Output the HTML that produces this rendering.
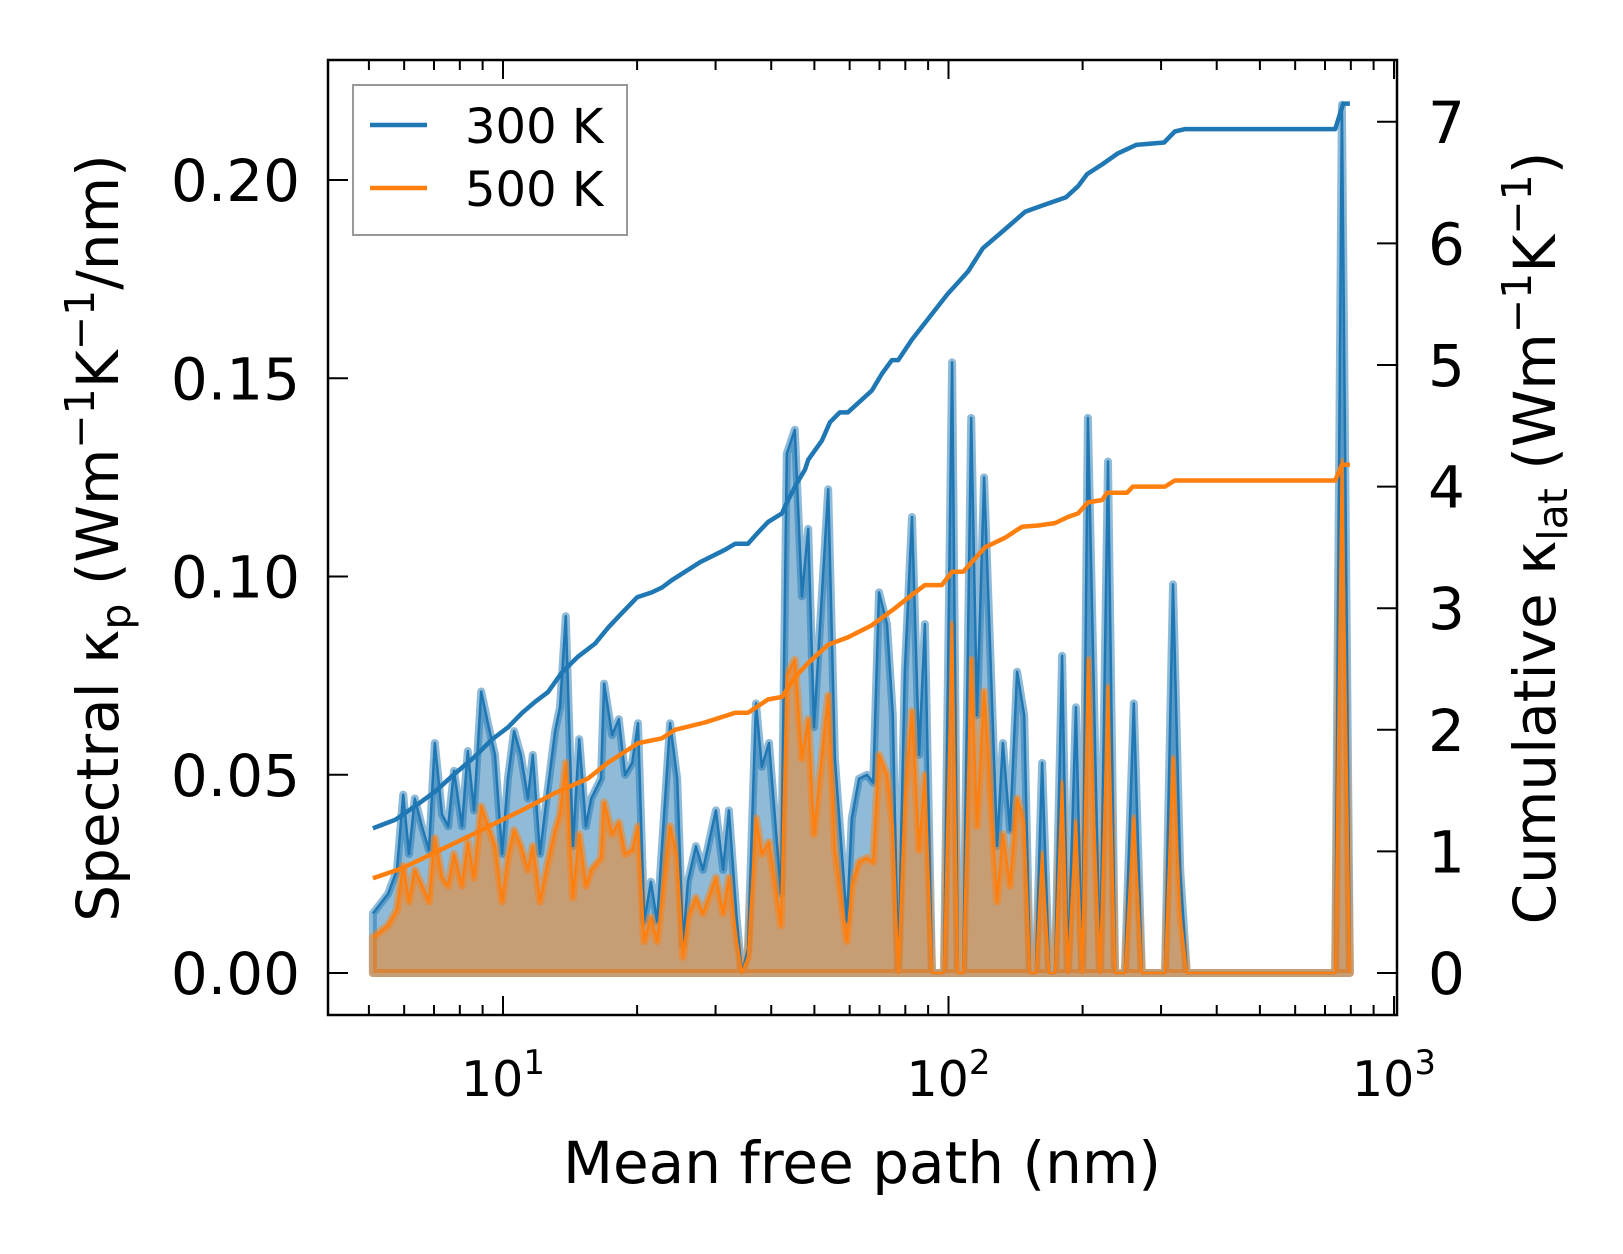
<!DOCTYPE html>
<html><head><meta charset="utf-8"><style>
html,body{margin:0;padding:0;background:#fff;}
svg{display:block;font-family:"DejaVu Sans","Liberation Sans",sans-serif;}
</style></head><body>
<svg id="chart" width="1623" height="1254" viewBox="0 0 1623 1254" xmlns="http://www.w3.org/2000/svg">
<rect x="0" y="0" width="1623" height="1254" fill="#fff"/>
<g id="fills"></g>
<g id="lines"></g>
<g id="axes"></g>
</svg>
<script>
// ---- data ----
const logMfp = [0.708,0.742,0.762,0.776,0.789,0.802,0.818,0.834,0.847,0.863,0.877,0.890,0.908,0.921,0.935,0.951,0.966,0.982,0.998,1.011,1.025,1.040,1.056,1.067,1.083,1.099,1.117,1.128,1.141,1.157,1.171,1.186,1.198,1.220,1.227,1.245,1.260,1.274,1.290,1.303,1.317,1.332,1.346,1.375,1.391,1.404,1.415,1.433,1.449,1.478,1.494,1.507,1.525,1.536,1.550,1.568,1.581,1.597,1.624,1.637,1.655,1.671,1.685,1.698,1.730,1.745,1.772,1.783,1.799,1.817,1.831,1.844,1.862,1.875,1.887,1.902,1.918,1.934,1.947,1.963,1.976,1.990,2.008,2.021,2.033,2.051,2.064,2.080,2.109,2.122,2.138,2.154,2.170,2.183,2.196,2.210,2.226,2.239,2.255,2.268,2.286,2.300,2.313,2.340,2.358,2.374,2.396,2.416,2.434,2.486,2.504,2.520,2.535,2.868,2.883,2.901];
const spec300 = [.015,.020,.026,.045,.030,.044,.037,.031,.058,.040,.037,.051,.037,.056,.041,.071,.063,.055,.030,.049,.061,.055,.044,.055,.030,.045,.061,.067,.090,.032,.059,.037,.044,.049,.073,.060,.064,.050,.053,.063,.013,.023,.013,.063,.049,.007,.023,.032,.026,.041,.026,.041,.013,.000,.006,.068,.052,.058,.020,.131,.137,.095,.112,.062,.122,.054,.013,.039,.049,.050,.048,.096,.088,.065,.000,.076,.115,.055,.088,.000,.000,.000,.154,.000,.000,.140,.065,.125,.032,.058,.036,.076,.065,.000,.000,.053,.000,.000,.080,.000,.067,.000,.140,.000,.129,.000,.000,.068,.000,.000,.098,.026,.000,.000,.219,.000];
const spec500 = [.009,.012,.016,.027,.018,.026,.022,.018,.034,.024,.022,.030,.022,.033,.024,.042,.037,.032,.018,.029,.036,.032,.026,.032,.018,.027,.036,.040,.053,.019,.035,.022,.026,.029,.043,.035,.038,.030,.031,.037,.008,.014,.008,.037,.029,.004,.014,.019,.015,.024,.015,.024,.008,.000,.004,.039,.030,.033,.012,.075,.079,.054,.064,.035,.070,.031,.008,.022,.028,.029,.028,.055,.050,.037,.000,.044,.066,.031,.050,.000,.000,.000,.088,.000,.000,.079,.037,.071,.018,.035,.022,.044,.038,.000,.000,.030,.000,.000,.048,.000,.038,.000,.079,.000,.072,.000,.000,.039,.000,.000,.054,.015,.000,.000,.129,.000];
const cum300X = [0.708,0.758,0.802,0.847,0.892,0.937,0.975,1.011,1.043,1.072,1.101,1.132,1.168,1.207,1.236,1.267,1.301,1.334,1.357,1.379,1.443,1.498,1.521,1.550,1.572,1.595,1.626,1.640,1.660,1.678,1.685,1.716,1.734,1.756,1.774,1.828,1.851,1.873,1.887,1.918,1.997,2.044,2.077,2.125,2.172,2.217,2.264,2.291,2.311,2.345,2.380,2.421,2.484,2.508,2.531,2.868,2.886,2.901];
const cum300Y = [1.19,1.26,1.37,1.49,1.64,1.78,1.92,2.02,2.14,2.23,2.31,2.47,2.60,2.71,2.84,2.96,3.09,3.13,3.17,3.23,3.38,3.48,3.53,3.53,3.62,3.71,3.78,3.89,4.03,4.14,4.22,4.38,4.53,4.61,4.61,4.79,4.93,5.04,5.04,5.21,5.58,5.77,5.96,6.11,6.26,6.32,6.38,6.47,6.57,6.65,6.74,6.81,6.83,6.92,6.94,6.94,7.15,7.15];
const cum500X = [0.708,0.773,0.847,0.921,0.982,1.043,1.117,1.191,1.236,1.303,1.357,1.386,1.453,1.521,1.550,1.595,1.626,1.655,1.685,1.730,1.774,1.828,1.880,1.918,1.947,1.985,2.008,2.033,2.082,2.127,2.165,2.201,2.239,2.268,2.291,2.313,2.345,2.356,2.401,2.414,2.486,2.508,2.868,2.883,2.901];
const cum500Y = [0.78,0.86,0.99,1.12,1.23,1.34,1.48,1.60,1.73,1.89,1.93,2.00,2.06,2.14,2.14,2.25,2.27,2.43,2.55,2.70,2.76,2.86,3.00,3.11,3.19,3.19,3.30,3.30,3.50,3.58,3.67,3.68,3.70,3.75,3.78,3.87,3.89,3.95,3.95,4.00,4.00,4.05,4.05,4.18,4.18];
const leftTicks = [0, 0.05, 0.10, 0.15, 0.20];
const leftTickLabels = ["0.00","0.05","0.10","0.15","0.20"];
const rightTicks = [0,1,2,3,4,5,6,7];
const xMajor = [1,2,3];
const seriesNames = ["300 K","500 K"];

// ---- layout ----
const PL=328, PR=1397, PT=60, PB=1015;
const X0=503, DEC=445.5;
const Y0=973, YL=3965, YR=121.6;
const xs = L => X0 + (L-1)*DEC;
const yl = v => Y0 - v*YL;
const yr = c => Y0 - c*YR;
const NS="http://www.w3.org/2000/svg";
const C1="#1f77b4", C2="#ff7f0e";
function mk(tag, parent, attrs){const e=document.createElementNS(NS,tag);for(const k in attrs)e.setAttribute(k,attrs[k]);parent.appendChild(e);return e;}
const fills=document.getElementById('fills'), lines=document.getElementById('lines'), axes=document.getElementById('axes');

function spectral(vals, color, name){
  let pts = logMfp.map((L,i)=>xs(L).toFixed(1)+','+yl(vals[i]).toFixed(1));
  const poly = xs(logMfp[0]).toFixed(1)+','+Y0+' '+pts.join(' ')+' '+xs(logMfp[logMfp.length-1]).toFixed(1)+','+Y0;
  const f = mk('polygon', fills, {points:poly, fill:color, 'fill-opacity':0.5, stroke:color, 'stroke-opacity':0.5, 'stroke-width':8, 'stroke-linejoin':'round'});
  
  
  const l = mk('polyline', lines, {points:pts.join(' '), fill:'none', stroke:color, 'stroke-width':2.5, 'stroke-linejoin':'round'});
  
  
}
spectral(spec300, C1, 'spectral-300k');
spectral(spec500, C2, 'spectral-500k');

function cum(X, Y, color, name){
  const pts = X.map((L,i)=>xs(L).toFixed(1)+','+yr(Y[i]).toFixed(1)).join(' ');
  const l = mk('polyline', lines, {points:pts, fill:'none', stroke:color, 'stroke-width':4.5, 'stroke-linejoin':'round'});
  
  
}
cum(cum300X, cum300Y, C1, 'cumulative-300k');
cum(cum500X, cum500Y, C2, 'cumulative-500k');

// frame
const fr = mk('rect', axes, {x:PL, y:PT, width:PR-PL, height:PB-PT, fill:'none', stroke:'#000', 'stroke-width':2.5});



// x ticks
for (let d=0; d<=3; d++){
  for (let m=1; m<=9; m++){
    const L = d + Math.log10(m);
    const x = xs(L);
    if (x < PL+1 || x > PR-1) continue;
    const len = (m===1)?19:10;
    const t1 = mk('line', axes, {x1:x, x2:x, y1:PB, y2:PB-len, stroke:'#000', 'stroke-width':2});
    
    
    const t2 = mk('line', axes, {x1:x, x2:x, y1:PT, y2:PT+len, stroke:'#000', 'stroke-width':2});
    
    
  }
}
xMajor.forEach(p=>{
  const t = mk('text', axes, {x:xs(p), y:1096, 'text-anchor':'middle', 'font-size':49, fill:'#000'});
  
  
  t.textContent = '10';
  const s = mk('tspan', t, {dy:-22, 'font-size':34});
  s.textContent = String(p);
});
// left ticks
leftTicks.forEach((v,i)=>{
  const y = yl(v);
  const t = mk('line', axes, {x1:PL, x2:PL+20, y1:y, y2:y, stroke:'#000', 'stroke-width':2});
  
  
  const tx = mk('text', axes, {x:300, y:y+21, 'text-anchor':'end', 'font-size':58, fill:'#000'});
  
  
  tx.textContent = leftTickLabels[i];
});
// right ticks
rightTicks.forEach(c=>{
  const y = yr(c);
  const t = mk('line', axes, {x1:PR, x2:PR-20, y1:y, y2:y, stroke:'#000', 'stroke-width':2});
  
  
  const tx = mk('text', axes, {x:1428, y:y+21, 'text-anchor':'start', 'font-size':58, fill:'#000'});
  
  
  tx.textContent = String(c);
});
</script>
<svg style="position:absolute;left:0;top:0" width="1623" height="1254" xmlns="http://www.w3.org/2000/svg" font-family="DejaVu Sans, Liberation Sans, sans-serif">
<text x="862" y="1183" text-anchor="middle" font-size="58">Mean free path (nm)</text>
<text transform="translate(118,538) rotate(-90)" text-anchor="middle" font-size="58">Spectral κ<tspan font-size="41" dy="12">p</tspan><tspan dy="-12"> (Wm</tspan><tspan font-size="41" dy="-24">−1</tspan><tspan dy="24">K</tspan><tspan font-size="41" dy="-24">−1</tspan><tspan dy="24">/nm)</tspan></text>
<text transform="translate(1555,538) rotate(-90)" text-anchor="middle" font-size="58">Cumulative κ<tspan font-size="41" dy="12">lat</tspan><tspan dy="-12"> (Wm</tspan><tspan font-size="41" dy="-24">−1</tspan><tspan dy="24">K</tspan><tspan font-size="41" dy="-24">−1</tspan><tspan dy="24">)</tspan></text>
<g>
<rect x="353" y="85" width="274" height="150" fill="#fff" fill-opacity="0.8" stroke="#999" stroke-width="2"/>
<line x1="370" x2="427" y1="125" y2="125" stroke="#1f77b4" stroke-width="4.5"/>
<text x="465" y="143" font-size="48">300 K</text>
<line x1="370" x2="427" y1="188" y2="188" stroke="#ff7f0e" stroke-width="4.5"/>
<text x="465" y="206" font-size="48">500 K</text>
</g>
</svg>
</body></html>
